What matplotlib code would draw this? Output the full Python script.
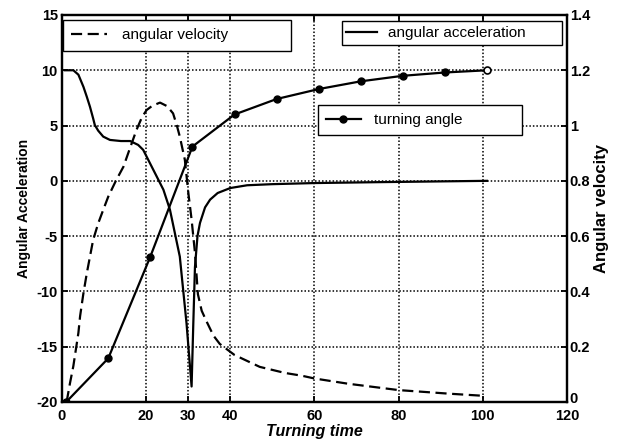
import numpy as np
import matplotlib
matplotlib.use("Agg")
import matplotlib.pyplot as plt
import matplotlib.transforms as mtransforms
from matplotlib.lines import Line2D

plt.rcParams['font.family'] = ['Liberation Sans', 'DejaVu Sans']
plt.rcParams['axes.unicode_minus'] = False

# angular acceleration (left axis)
acc_t = [0.7, 2.7, 3.9, 5.1, 5.9, 6.65, 7.4, 7.8, 8.6, 9.8, 11.4, 14, 16.2,
         18.1, 19.3, 20.1, 21.3, 22.5, 24.1, 25.65, 28, 29.6, 30.8, 31.2, 31.6,
         32.2, 32.8, 34, 35.2, 37, 40, 44, 50, 60, 75, 90, 101]
acc_y = [10, 10, 9.6, 8.5, 7.6, 6.7, 5.65, 5.05, 4.54, 4.0, 3.7, 3.6, 3.6,
         3.25, 2.8, 2.2, 1.3, 0.4, -0.8, -2.6, -6.85, -12.9, -18.6, -13, -7.8,
         -5, -3.8, -2.4, -1.7, -1.1, -0.65, -0.4, -0.3, -0.2, -0.12, -0.05, 0.0]

# angular velocity (right axis)
vel_t = [1.1, 1.9, 2.7, 3.9, 4.3, 5.06, 5.9, 6.65, 7.4, 8.6, 9.8, 11, 12.8,
         14.6, 16.2, 17.7, 19, 20.1, 21.5, 23.3, 25, 26.4, 27.3, 28, 29.2, 30,
         30.8, 31.6, 32.3, 33.2, 34.4, 36, 37.5, 41, 47, 53, 57, 60, 68, 80, 92,
         100.5]
vel_v = [0, 0.068, 0.13, 0.25, 0.31, 0.39, 0.466, 0.526, 0.586, 0.646, 0.695,
         0.743, 0.80, 0.851, 0.92, 0.984, 1.03, 1.056, 1.072, 1.083, 1.07, 1.044,
         1.0, 0.96, 0.876, 0.76, 0.66, 0.54, 0.39, 0.33, 0.29, 0.24, 0.21, 0.17,
         0.127, 0.105, 0.095, 0.085, 0.066, 0.043, 0.03, 0.022]

# turning angle (right axis)
turn_t = [1, 11, 21, 31, 41, 51, 61, 71, 81, 91, 101]
turn_v = [0, 0.158, 0.526, 0.924, 1.04, 1.096, 1.132, 1.16, 1.18, 1.192, 1.2]

xticks = [0, 20, 30, 40, 60, 80, 100, 120]
lticks = [-20, -15, -10, -5, 0, 5, 10, 15]
rticks = [0, 0.2, 0.4, 0.6, 0.8, 1.0, 1.2, 1.4]
rlabels = ['0', '0.2', '0.4', '0.6', '0.8', '1', '1.2', '1.4']

fig = plt.figure(figsize=(6.23, 4.46), dpi=100)
ax = fig.add_axes([0.0995, 0.0987, 0.8105, 0.8677])
ax2 = ax.twinx()

lw = 1.6
dash = (0, (5, 2.5))
ax.plot(acc_t, acc_y, color='black', lw=lw)
ax2.plot(vel_t, vel_v, color='black', lw=lw, linestyle=dash)
ax2.plot(turn_t, turn_v, color='black', lw=lw, marker='o', ms=5,
         markevery=list(range(len(turn_t) - 1)))
ax2.plot(turn_t[-1:], turn_v[-1:], 'o', ms=5, mfc='white', mec='black', mew=1.2)

ax.set_xlim(0, 120)
ax.set_ylim(-20, 15)
ax2.set_ylim(0, 1.4)
ax.set_xticks(xticks)
ax.set_yticks(lticks)
ax2.set_yticks(rticks)
ax2.set_yticklabels(rlabels)

ax.grid(True, color='black', linestyle=(0, (1, 1.3)), linewidth=1.1)

for a in (ax, ax2):
    for s in a.spines.values():
        s.set_linewidth(1.6)
ax.tick_params(axis='both', direction='in', length=4, width=1.3, labelsize=10.5,
               top=True, pad=3)
ax.tick_params(axis='x', pad=5)
ax2.tick_params(axis='y', direction='in', length=4, width=1.3, labelsize=10.5, pad=2)
for lab in ax.get_xticklabels() + ax.get_yticklabels() + ax2.get_yticklabels():
    lab.set_fontweight('bold')

# nudge the right-hand "0" up a little so it clears the "120" below it
zero_lab = ax2.get_yticklabels()[0]
zero_lab.set_transform(zero_lab.get_transform() +
                       mtransforms.ScaledTranslation(0, 3 / 72, fig.dpi_scale_trans))

ax.set_xlabel('Turning time', fontsize=11.5, fontweight='bold', style='italic', labelpad=1)
ax.set_ylabel('Angular Acceleration', fontsize=10, fontweight='bold', labelpad=4)
ax2.set_ylabel('Angular velocity', fontsize=12, fontweight='bold', labelpad=3)

common = dict(loc='center left', mode='expand', borderaxespad=0, fontsize=11,
              fancybox=False, framealpha=1, edgecolor='black', facecolor='white')

leg1 = ax2.legend([Line2D([], [], color='black', lw=lw, linestyle=dash)],
                  ['angular velocity'], bbox_to_anchor=(0.002, 0.904, 0.451, 0.086),
                  borderpad=0.55, handlelength=2.3, handletextpad=1.0, **common)
leg1.get_frame().set_linewidth(1.0)
ax2.add_artist(leg1)

leg2 = ax2.legend([Line2D([], [], color='black', lw=lw)],
                  ['angular acceleration'], bbox_to_anchor=(0.554, 0.922, 0.436, 0.063),
                  borderpad=0.3, handlelength=2.0, handletextpad=0.7, **common)
leg2.get_frame().set_linewidth(1.0)
ax2.add_artist(leg2)

leg3 = ax2.legend([Line2D([], [], color='black', lw=lw, marker='o', ms=5)],
                  ['turning angle'], bbox_to_anchor=(0.507, 0.690, 0.404, 0.077),
                  borderpad=0.5, handlelength=2.3, handletextpad=0.85, **common)
leg3.get_frame().set_linewidth(1.0)

fig.savefig('out.png', dpi=100)
